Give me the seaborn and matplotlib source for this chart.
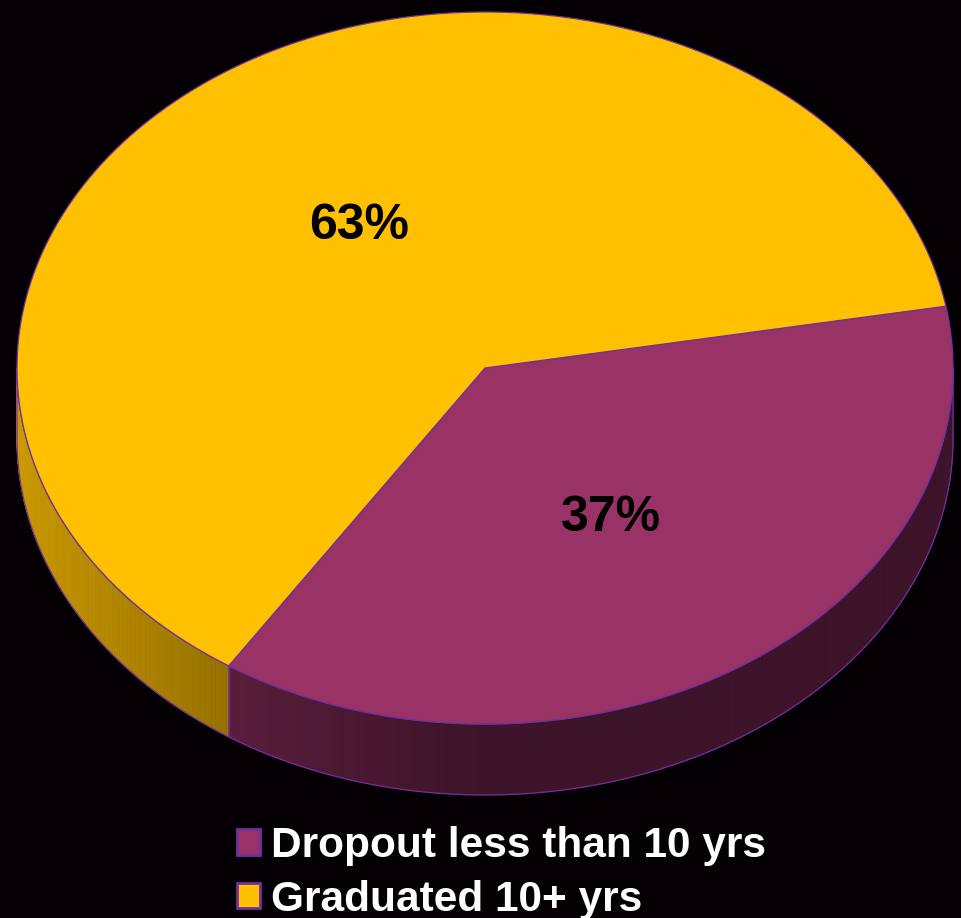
import numpy as np
import matplotlib
matplotlib.use("Agg")
import matplotlib.pyplot as plt
from matplotlib.patches import Polygon, Patch
import seaborn as sns

# Data
categories = ["Dropout less than 10 yrs", "Graduated 10+ yrs"]
shares = [37, 63]
share_labels = ["37%", "63%"]
top_colors = ["#993366", "#FFC000"]

EDGE = "#7030A0"
BG = "#050004"

sns.set_theme(style="white", rc={"axes.facecolor": BG, "figure.facecolor": BG})
plt.rcParams["font.family"] = ["Liberation Sans", "DejaVu Sans"]

fig = plt.figure(figsize=(9.61, 9.18), dpi=100, facecolor=BG)
ax = fig.add_axes([0, 0, 1, 1])
ax.set_xlim(0, 961)
ax.set_ylim(918, 0)
ax.set_axis_off()

# Tilted-disc geometry (pixels)
CX, CY, RX, RY, DEPTH = 485, 368, 468, 356, 71
START = 10.0  # first slice starts here and runs clockwise


def ell(t_deg, r=1.0, dz=0.0):
    t = np.radians(t_deg)
    return CX + RX * r * np.cos(t), CY - RY * r * np.sin(t) + dz


def shade(t_deg):
    # side walls lit from the front-left
    c = -np.cos(np.radians(t_deg))
    return 0.40 + 0.40 * np.clip(c, 0, None) ** 1.2


total = float(sum(shares))
spans = []
a = START
for v in shares:
    sweep = 360.0 * v / total
    spans.append((a - sweep, a))
    a -= sweep

# Side walls: only the front half of the rim is visible
for (a0, a1), col in zip(spans, top_colors):
    rgb = np.array(matplotlib.colors.to_rgb(col))
    for k in range(0, 2):
        lo = max(a0, -180 - 360 * k)
        hi = min(a1, -360 * k)
        if hi <= lo:
            continue
        n = max(2, int((hi - lo) / 0.5))
        ts = np.linspace(lo, hi, n + 1)
        for t0, t1 in zip(ts[:-1], ts[1:]):
            x0, y0 = ell(t0)
            x1, y1 = ell(t1)
            c = np.clip(rgb * shade(0.5 * (t0 + t1)), 0, 1)
            ax.add_patch(Polygon([(x0, y0), (x1, y1), (x1, y1 + DEPTH), (x0, y0 + DEPTH)],
                                 closed=True, facecolor=c, edgecolor=c, lw=0.6))
        xs, ys = ell(ts)
        outline = list(zip(xs, ys)) + list(zip(xs[::-1], ys[::-1] + DEPTH))
        ax.add_patch(Polygon(outline, closed=True, fill=False, edgecolor=EDGE, lw=0.9))

# Top faces
for (a0, a1), col in zip(spans, top_colors):
    ts = np.linspace(a0, a1, 300)
    xs, ys = ell(ts)
    pts = [(CX, CY)] + list(zip(xs, ys))
    ax.add_patch(Polygon(pts, closed=True, facecolor=col, edgecolor=EDGE, lw=0.9))

# Percentage labels
for (a0, a1), lab in zip(spans, share_labels):
    x, y = ell(0.5 * (a0 + a1), r=0.49)
    ax.annotate(lab, (x, y), xytext=(0, -4), textcoords="offset pixels",
                ha="center", va="center", fontsize=36, fontweight="bold", color="black")

handles = [Patch(facecolor=c, edgecolor=EDGE, linewidth=2) for c in top_colors]
fig.legend(handles, categories, loc="upper left", bbox_to_anchor=(237 / 961, 1 - 826 / 918),
           frameon=False, prop={"weight": "bold", "size": 30.5}, labelcolor="white",
           handlelength=0.54, handleheight=0.54, handletextpad=0.27, labelspacing=0.32,
           borderpad=0, borderaxespad=0)

fig.savefig("out.png", dpi=100, facecolor=BG)
